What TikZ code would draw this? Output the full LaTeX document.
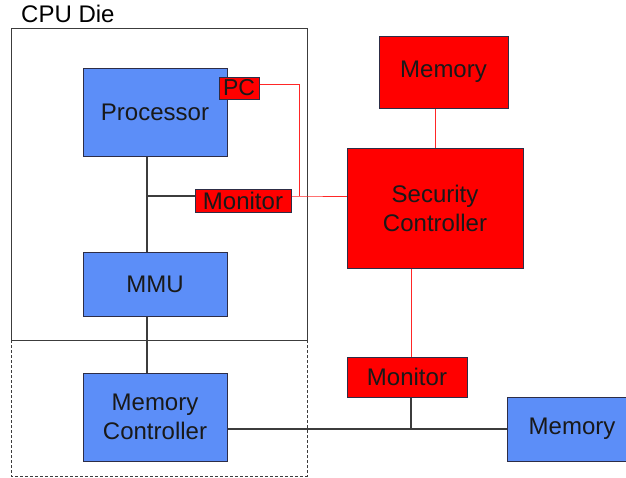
\documentclass[tikz,border=0pt]{standalone}
\usepackage{fontspec}
\setmainfont{Liberation Sans}
\usetikzlibrary{calc}
\definecolor{boxblue}{RGB}{92,142,248}
\definecolor{boxred}{RGB}{255,0,0}
\definecolor{edge}{RGB}{45,45,70}
\definecolor{wire}{RGB}{60,60,60}
\tikzset{
  blk/.style={draw=edge, line width=1pt, inner sep=0pt, align=center,
    font=\fontsize{24}{29}\selectfont, text=black!90},
  blue/.style={blk, fill=boxblue},
  red/.style={blk, fill=boxred},
  wirek/.style={draw=wire, line width=1.2pt},
  wirer/.style={draw=boxred!85!white, line width=0.9pt},
  frame/.style={draw=wire, line width=1pt},
}
\begin{document}
\begin{tikzpicture}[x=1pt, y=-1pt]
\useasboundingbox (0,0) rectangle (626,477);
\clip (0,0) rectangle (626,477);
\fill[white] (0,0) rectangle (626,477);

% chip boundary and the off-die region below it
\draw[frame] (11,28) rectangle (307,340);
\draw[frame, dash pattern=on 3pt off 2pt] (11,340) -- (11,476) -- (307,476) -- (307,340);
\node[anchor=base west, font=\fontsize{24}{29}\selectfont, inner sep=0pt] (die) at (21,22) {CPU Die};

% blocks
\node[blue, minimum width=144pt, minimum height=88pt] (proc) at (155,112) {Processor};
\node[blue, minimum width=144pt, minimum height=64pt] (mmu) at (155,284) {MMU};
\node[blue, minimum width=144pt, minimum height=88pt] (mc) at (155,417) {Memory\\Controller};
\node[blue, minimum width=130pt, minimum height=64pt] (memr) at (572,429) {Memory};

\node[red, minimum width=40pt, minimum height=22pt, font=\fontsize{23}{27}\selectfont] (pc) at (239,88) {PC};
\node[red, minimum width=96pt, minimum height=23pt] (mon1) at (243,200.5) {Monitor};
\node[red, minimum width=129pt, minimum height=72pt] (memt) at (443.5,72) {Memory};
\node[red, minimum width=176pt, minimum height=120pt] (sc) at (435,208) {Security\\Controller};
\node[red, minimum width=120pt, minimum height=40pt] (mon2) at (407,377) {Monitor};

% helper positions for wires
\coordinate (bus) at (147,196);
\coordinate (riser) at (299,196);
\coordinate (drop) at (411,429);

% processor / MMU / memory controller chain
\draw[wirek] (proc.south -| bus) -- (mmu.north -| bus);
\draw[wirek] (mmu.south -| bus) -- (mc.north -| bus);
\draw[wirek] (bus) -- (bus -| mon1.west);
\draw[wirek] (mc.east |- memr.west) -- (memr.west);
\draw[wirek] (mon2.south -| drop) -- (drop);

% security paths
\draw[wirer] ([yshift=4pt]pc.east) -| (riser);
\draw[wirer] (mon1.east |- riser) -- (riser) -- (sc.west |- riser);
\draw[wirer] (memt.south -| sc.north) -- (sc.north);
\draw[wirer] (sc.south -| drop) -- (mon2.north -| drop);
\end{tikzpicture}
\end{document}
